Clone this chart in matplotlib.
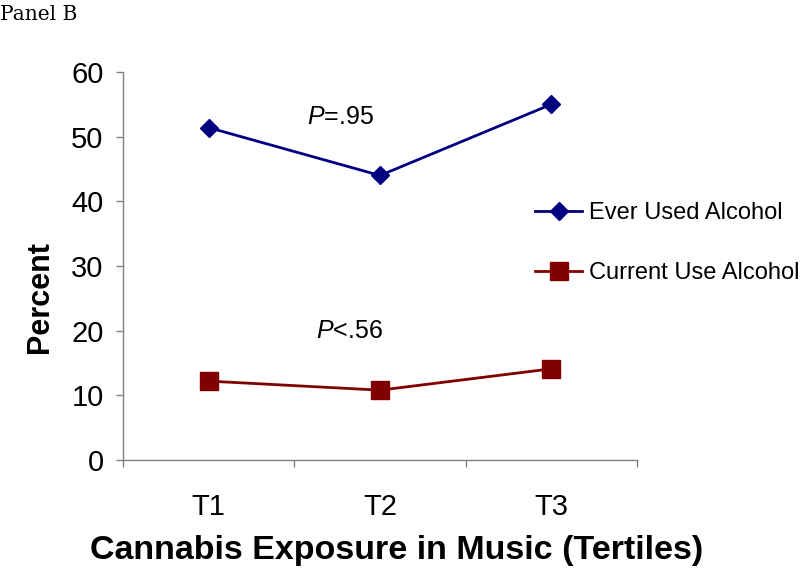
import matplotlib
matplotlib.use("Agg")
import matplotlib.pyplot as plt

plt.rcParams['font.family'] = ['Liberation Sans', 'DejaVu Sans']
plt.rcParams['mathtext.fontset'] = 'custom'
plt.rcParams['mathtext.it'] = 'Liberation Sans:italic'
plt.rcParams['mathtext.rm'] = 'Liberation Sans'

categories = ['T1', 'T2', 'T3']
ever_used = [51.4, 44.0, 55.0]
current_use = [12.2, 10.8, 14.1]
series_labels = ['Ever Used Alcohol', 'Current Use Alcohol']
y_ticks = [0, 10, 20, 30, 40, 50, 60]

fig = plt.figure(figsize=(8, 5.71), dpi=100)
ax = fig.add_axes([123/800, 1-460/571, (637-123)/800, (460-72)/571])

x = list(range(len(categories)))
blue = '#000080'
red = '#800000'
l1, = ax.plot(x, ever_used, color=blue, lw=2.0, marker='D', ms=9.5, mec=blue, mfc=blue)
l2, = ax.plot(x, current_use, color=red, lw=2.0, marker='s', ms=13.5, mec=red, mfc=red)

ax.set_xlim(-0.5, 2.5)
ax.set_ylim(0, 60)
ax.set_yticks(y_ticks)
ax.set_xticks(x)
ax.set_xticklabels(categories)
ax.set_xticks([-0.5, 0.5, 1.5, 2.5], minor=True)
ax.tick_params(axis='x', which='major', length=0, pad=24, labelsize=21)
ax.tick_params(axis='x', which='minor', length=5, color='#808080', width=1)
ax.tick_params(axis='y', length=5, color='#808080', width=1, pad=9, labelsize=21)
for s in ['top', 'right']:
    ax.spines[s].set_visible(False)
for s in ['left', 'bottom']:
    ax.spines[s].set_color('#808080')
    ax.spines[s].set_linewidth(1)

fig.text(397/800, 1-551/571, 'Cannabis Exposure in Music (Tertiles)', fontsize=24.5, fontweight='bold',
         ha='center', va='center')
fig.text(40/800, 1-297/571, 'Percent', fontsize=22, fontweight='bold', rotation=90,
         ha='center', va='center')

ax.text(0.77, 53.0, r'$\mathit{P}$=.95', fontsize=18, ha='center', va='center')
ax.text(0.82, 20.0, r'$\mathit{P}$<.56', fontsize=18, ha='center', va='center')

leg = fig.legend([l1, l2], series_labels, loc='center left', bbox_to_anchor=(535/800, 1-243/571),
                 frameon=False, fontsize=17, handlelength=2.0, labelspacing=1.6, handletextpad=0.3,
                 borderaxespad=0, borderpad=0)

fig.text(0.0, 1-14/571, 'Panel B', fontsize=14.5, family='DejaVu Serif', va='center', ha='left')

fig.savefig('out.png', dpi=100)
